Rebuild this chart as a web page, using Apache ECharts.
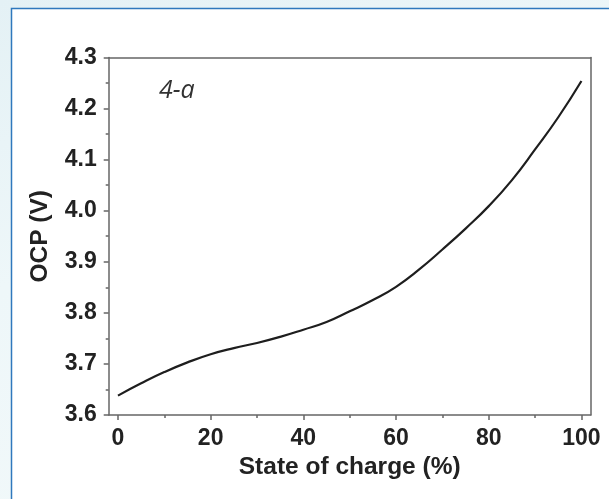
<!DOCTYPE html>
<html>
<head>
<meta charset="utf-8">
<script src="https://cdn.jsdelivr.net/npm/echarts@6/dist/echarts.min.js"></script>
<style>
html,body{margin:0;padding:0;width:609px;height:499px;overflow:hidden;
background:linear-gradient(160deg,#e4f1f5 0%,#eef7f9 40%,#f3f9fa 100%);}
#c{position:absolute;left:0;top:0;width:609px;height:499px;}
</style>
</head>
<body>
<div id="c"></div>
<script>
const soc = [0,5,10,15,20,25,30,35,40,45,50,55,60,65,70,75,80,85,90,95,100];
const ocp = [3.638,3.662,3.684,3.703,3.719,3.731,3.741,3.753,3.767,3.782,3.803,3.825,3.851,3.885,3.924,3.965,4.009,4.060,4.120,4.183,4.254];
const xTicks = [0,20,40,60,80,100];
const xMinor = [10,30,50,70,90];

const chart = echarts.init(document.getElementById('c'), null, {renderer:'canvas'});
const axisCol = '#666';
const ff = 'Liberation Sans, Arial, sans-serif';
const labelFont = {fontFamily:ff, fontWeight:'bold', fontSize:23, color:'#222'};
const nameFont = {fontFamily:ff, fontWeight:'bold', fontSize:24.5, color:'#222'};
chart.setOption({
  animation:false,
  graphic:[
    {type:'rect', z:-10, shape:{x:11.5,y:8.5,width:640,height:540}, style:{fill:'#ffffff', stroke:'#2f78bd', lineWidth:1.5}},
    {type:'text', left:159, top:78, z:10, style:{text:'4-a', font:'italic 25px "Open Sans", "DejaVu Sans", sans-serif', fill:'#333'}}
  ],
  grid:{left:108.7, right:18.3, top:57.5, bottom:84, containLabel:false},
  xAxis:[{
    type:'value', min:-2, max:102, interval:20,
    axisLabel:Object.assign({margin:12, customValues:xTicks, formatter:v=>String(v)}, labelFont),
    axisTick:{show:true, customValues:xTicks, length:5, lineStyle:{color:axisCol,width:1.5}},
    axisLine:{show:true, onZero:false, lineStyle:{color:axisCol,width:1.5}},
    splitLine:{show:false},
    name:'State of charge (%)', nameLocation:'middle', nameGap:36,
    nameTextStyle:nameFont
  },{
    type:'value', position:'top', min:-2, max:102,
    axisLine:{show:true, onZero:false, lineStyle:{color:axisCol,width:1.5}},
    axisTick:{show:false}, axisLabel:{show:false}, splitLine:{show:false}
  },{
    type:'value', min:-2, max:102, position:'bottom',
    axisLine:{show:false}, axisLabel:{show:false}, splitLine:{show:false},
    axisTick:{show:true, customValues:xMinor, length:3, lineStyle:{color:axisCol,width:1.5}}
  }],
  yAxis:[{
    type:'value', min:3.6, max:4.3, interval:0.1,
    axisLabel:Object.assign({margin:12, formatter:v=>v.toFixed(1)}, labelFont),
    axisTick:{show:true, length:5, lineStyle:{color:axisCol,width:1.5}},
    minorTick:{show:true, splitNumber:2, length:3, lineStyle:{color:axisCol,width:1.5}},
    axisLine:{show:true, onZero:false, lineStyle:{color:axisCol,width:1.5}},
    splitLine:{show:false},
    name:'OCP (V)', nameLocation:'middle', nameGap:56,
    nameTextStyle:nameFont
  },{
    type:'value', position:'right', min:3.6, max:4.3,
    axisLine:{show:true, onZero:false, lineStyle:{color:axisCol,width:1.5}},
    axisTick:{show:false}, axisLabel:{show:false}, splitLine:{show:false}
  }],
  series:[{
    type:'line', xAxisIndex:0, yAxisIndex:0,
    data:soc.map((s,i)=>[s,ocp[i]]),
    smooth:true, symbol:'none',
    lineStyle:{color:'#1e1e1e', width:2.2}
  }]
});
</script>
</body>
</html>
